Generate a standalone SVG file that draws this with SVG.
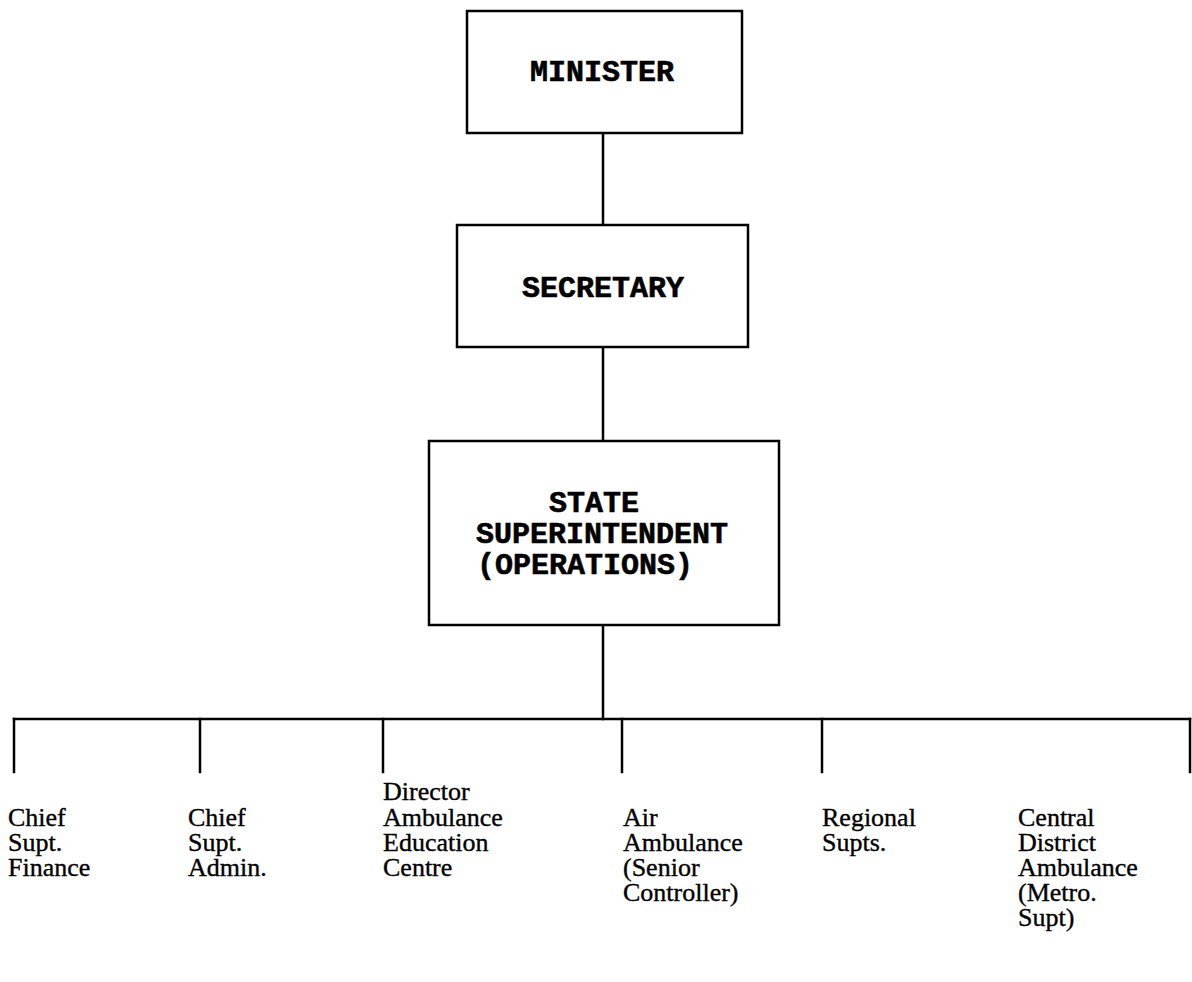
<svg xmlns="http://www.w3.org/2000/svg" width="1192" height="982" viewBox="0 0 1192 982">
  <style>
    .box { fill: #ffffff; stroke: #000000; stroke-width: 2.5; }
    .wire { fill: none; stroke: #000000; stroke-width: 2.5; stroke-linecap: square; }
    .head { font-family: "Liberation Mono", "Courier New", monospace; font-weight: bold; font-size: 30px; fill: #000000; stroke: #000000; stroke-width: 0.6; }
    .unit { font-family: "Liberation Serif", "Times New Roman", serif; font-size: 26px; fill: #000000; stroke: #000000; stroke-width: 0.35; }
  </style>
  <rect width="1192" height="982" fill="#ffffff"/>

  <!-- reporting lines -->
  <g id="connectors" class="wire">
    <line x1="603" y1="133" x2="603" y2="225"/>
    <line x1="603" y1="347" x2="603" y2="441"/>
    <line x1="603" y1="625" x2="603" y2="719"/>
    <line x1="14" y1="719" x2="1190" y2="719"/>
    <line x1="14" y1="719" x2="14" y2="772"/>
    <line x1="200" y1="719" x2="200" y2="772"/>
    <line x1="383" y1="719" x2="383" y2="772"/>
    <line x1="622" y1="719" x2="622" y2="772"/>
    <line x1="822" y1="719" x2="822" y2="772"/>
    <line x1="1190" y1="719" x2="1190" y2="772"/>
  </g>

  <g id="minister">
    <rect class="box" x="467" y="11" width="275" height="122"/>
    <text class="head" x="530" y="81">MINISTER</text>
  </g>

  <g id="secretary">
    <rect class="box" x="457" y="225" width="291" height="122"/>
    <text class="head" x="522" y="297">SECRETARY</text>
  </g>

  <g id="state-superintendent">
    <rect class="box" x="429" y="441" width="350" height="184"/>
    <text class="head" x="549" y="512">STATE</text>
    <text class="head" x="476" y="543">SUPERINTENDENT</text>
    <text class="head" x="477" y="574">(OPERATIONS)</text>
  </g>

  <g id="chief-supt-finance">
    <text class="unit" x="8" y="826">Chief</text>
    <text class="unit" x="8" y="851">Supt.</text>
    <text class="unit" x="8" y="876">Finance</text>
  </g>

  <g id="chief-supt-admin">
    <text class="unit" x="188" y="826">Chief</text>
    <text class="unit" x="188" y="851">Supt.</text>
    <text class="unit" x="188" y="876">Admin.</text>
  </g>

  <g id="education-centre">
    <text class="unit" x="383" y="800">Director</text>
    <text class="unit" x="383" y="826">Ambulance</text>
    <text class="unit" x="383" y="851">Education</text>
    <text class="unit" x="383" y="876">Centre</text>
  </g>

  <g id="air-ambulance">
    <text class="unit" x="623" y="826">Air</text>
    <text class="unit" x="623" y="851">Ambulance</text>
    <text class="unit" x="623" y="876">(Senior</text>
    <text class="unit" x="623" y="901">Controller)</text>
  </g>

  <g id="regional-supts">
    <text class="unit" x="822" y="826">Regional</text>
    <text class="unit" x="822" y="851">Supts.</text>
  </g>

  <g id="central-district">
    <text class="unit" x="1018" y="826">Central</text>
    <text class="unit" x="1018" y="851">District</text>
    <text class="unit" x="1018" y="876">Ambulance</text>
    <text class="unit" x="1018" y="901">(Metro.</text>
    <text class="unit" x="1018" y="926">Supt)</text>
  </g>
</svg>
